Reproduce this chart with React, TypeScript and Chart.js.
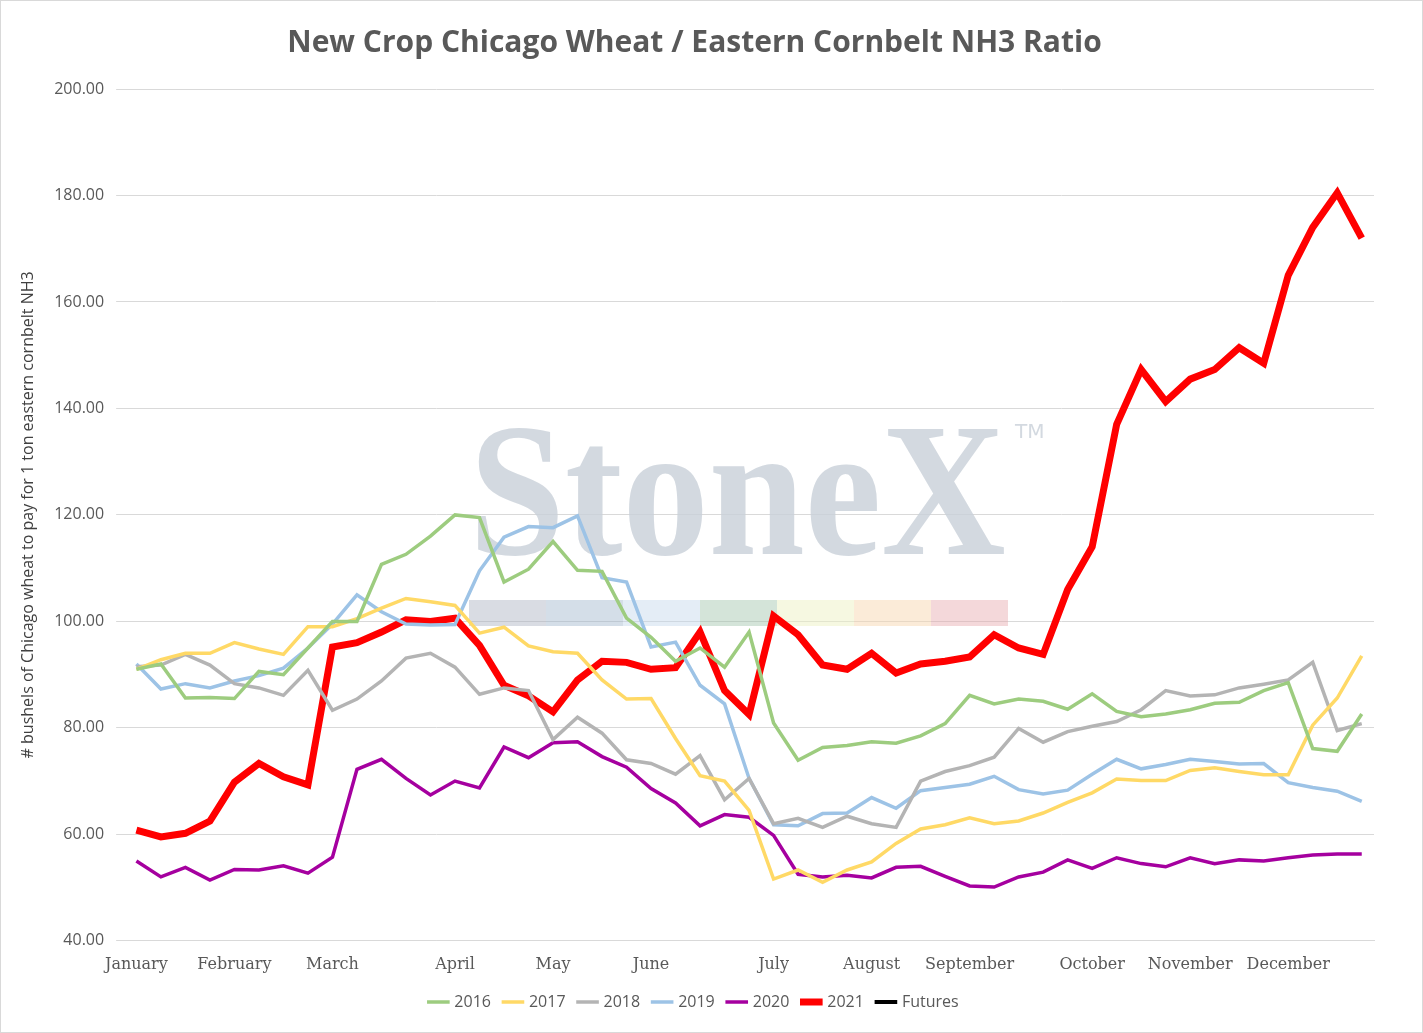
import React, { useEffect, useRef } from "react";
import { Chart, registerables } from "chart.js";
Chart.register(...registerables);

const monthAt: Record<number, string> = { 0: "January", 4: "February", 8: "March", 13: "April", 17: "May", 21: "June", 26: "July", 30: "August", 34: "September", 39: "October", 43: "November", 47: "December" };
const labels: string[] = Array.from({ length: 51 }, (_, i) => monthAt[i] || "");

const s2016 = [91, 92, 85.6, 85.7, 85.5, 90.6, 90, 95, 100, 100, 110.7, 112.6, 116, 120, 119.5, 107.4, 109.8, 115, 109.6, 109.4, 100.6, 97, 92.5, 95, 91.4, 98, 80.9, 73.9, 76.3, 76.7, 77.4, 77.1, 78.5, 80.8, 86.1, 84.5, 85.4, 85, 83.5, 86.4, 83.1, 82.1, 82.6, 83.4, 84.6, 84.8, 87, 88.5, 76.1, 75.6, 82.6];
const s2017 = [91, 92.8, 94, 94, 96, 94.8, 93.8, 99, 99, 100.5, 102.5, 104.3, 103.7, 103, 97.8, 98.9, 95.4, 94.3, 94, 89, 85.4, 85.5, 78, 71, 70, 64.5, 51.6, 53.3, 51, 53.3, 54.8, 58.3, 61, 61.8, 63.1, 62, 62.5, 64, 66, 67.8, 70.4, 70.1, 70.1, 72, 72.5, 71.8, 71.2, 71.2, 80.5, 85.6, 93.5];
const s2018 = [91.5, 91.8, 93.8, 91.8, 88.3, 87.5, 86.1, 90.8, 83.3, 85.4, 88.8, 93.1, 94, 91.4, 86.3, 87.5, 87, 77.8, 82, 79, 74, 73.3, 71.3, 74.8, 66.5, 70.5, 62, 63, 61.3, 63.4, 62, 61.3, 70, 71.8, 72.9, 74.5, 79.9, 77.3, 79.3, 80.3, 81.2, 83.4, 87, 86, 86.2, 87.5, 88.2, 89, 92.3, 79.5, 80.8];
const s2019 = [92, 87.3, 88.3, 87.5, 88.8, 89.8, 91.2, 95, 99.5, 105, 101.8, 99.5, 99.3, 99.4, 109.5, 115.8, 117.8, 117.6, 119.8, 108.2, 107.4, 95.2, 96.1, 88, 84.5, 70.5, 61.8, 61.6, 63.9, 64, 66.9, 64.9, 68.2, 68.8, 69.4, 70.9, 68.4, 67.6, 68.3, 71.3, 74.1, 72.3, 73.1, 74.1, 73.7, 73.2, 73.3, 69.7, 68.8, 68.1, 66.2];
const s2020 = [55, 52, 53.8, 51.4, 53.4, 53.3, 54.1, 52.7, 55.7, 72.2, 74.1, 70.5, 67.4, 70, 68.7, 76.4, 74.4, 77.2, 77.4, 74.6, 72.6, 68.6, 65.9, 61.6, 63.7, 63.2, 59.8, 52.5, 52, 52.3, 51.8, 53.8, 54, 52.1, 50.3, 50.1, 52, 52.9, 55.2, 53.6, 55.6, 54.5, 53.9, 55.6, 54.5, 55.2, 55, 55.6, 56.1, 56.3, 56.3];
const s2021 = [60.8, 59.5, 60.2, 62.5, 69.8, 73.3, 70.8, 69.3, 95.2, 96, 98, 100.3, 100, 100.6, 95.5, 88, 86, 83, 89, 92.5, 92.3, 91, 91.3, 98, 87, 82.5, 101, 97.5, 91.8, 91, 94, 90.3, 92, 92.5, 93.3, 97.5, 95, 93.8, 106, 114, 137, 147.3, 141.3, 145.5, 147.3, 151.4, 148.5, 165, 174, 180.5, 172];
const futures: (number | null)[] = [];

const watermark = {
  id: "wm",
  beforeDatasetsDraw(chart: any) {
    const { ctx } = chart;
    ctx.save();
    ctx.fillStyle = "rgba(200,208,216,0.8)";
    ctx.font = "bold 190px 'Liberation Serif', serif";
    ctx.textBaseline = "alphabetic";
    const w = ctx.measureText("StoneX").width;
    ctx.save();
    ctx.translate(468, 553);
    ctx.scale(537 / w, 1);
    ctx.fillText("StoneX", 0, 0);
    ctx.restore();
    ctx.font = "20px 'DejaVu Sans'";
    ctx.fillText("TM", 1014, 437);
    const cols = ["rgba(170,178,192,0.45)", "rgba(160,182,205,0.45)", "rgba(195,215,235,0.45)", "rgba(160,195,170,0.45)", "rgba(238,242,195,0.5)", "rgba(247,215,178,0.5)", "rgba(230,168,172,0.45)"];
    cols.forEach((c, i) => { ctx.fillStyle = c; ctx.fillRect(468 + i * 77, 599, 77, 26); });
    ctx.restore();
  },
};

export default function App() {
  const ref = useRef<HTMLCanvasElement>(null);
  useEffect(() => {
    const mk = (label: string, data: any[], color: string, w = 3.5, dash?: number[]) => ({
      label, data, borderColor: color, backgroundColor: color, borderWidth: w, pointRadius: 0, tension: 0, borderDash: dash, fill: false,
    });
    const chart = new Chart(ref.current!, {
      type: "line",
      data: {
        labels,
        datasets: [
          mk("2016", s2016, "#9dcc7f"),
          mk("2017", s2017, "#ffd966"),
          mk("2018", s2018, "#b4b4b4"),
          mk("2019", s2019, "#9dc3e6"),
          mk("2020", s2020, "#a5009f"),
          mk("2021", s2021, "#ff0000", 7),
          mk("Futures", futures, "#000000", 4, [4, 7]),
        ] as any,
      },
      options: {
        animation: false,
        responsive: false,
        layout: { padding: { left: 14, right: 48, top: 14, bottom: 12 } },
        plugins: {
          title: { display: true, text: "New Crop Chicago Wheat / Eastern Cornbelt NH3 Ratio", color: "#595959", font: { family: "'Open Sans'", size: 30, weight: "bold" }, padding: { top: 10, bottom: 28 } },
          legend: {
            position: "bottom",
            labels: { color: "#595959", font: { family: "'Open Sans'", size: 16 }, usePointStyle: true, pointStyle: "line", boxWidth: 46, padding: 14 },
          },
        },
        scales: {
          x: {
            offset: true,
            grid: { display: false },
            border: { color: "#d9d9d9" },
            ticks: { autoSkip: false, maxRotation: 0, color: "#595959", padding: 6, font: { family: "'DejaVu Serif'", size: 16 } },
          },
          y: {
            min: 40, max: 200,
            border: { display: false },
            grid: { color: "#d9d9d9" },
            ticks: { stepSize: 20, color: "#595959", padding: 12, font: { family: "'Open Sans'", size: 16 }, callback: (v: any) => Number(v).toFixed(2) },
            title: { display: true, text: "# bushels of Chicago wheat to pay for 1 ton eastern cornbelt NH3", color: "#404040", font: { family: "'Open Sans'", size: 16 } },
          },
        },
      },
      plugins: [watermark],
    });
    return () => chart.destroy();
  }, []);
  return (
    <div style={{ position: "absolute", left: 0, top: 0, width: 1423, height: 1033, background: "#fff", boxSizing: "border-box", border: "1px solid #d9d9d9" }}>
      <canvas ref={ref} width={1421} height={1031} />
    </div>
  );
}
